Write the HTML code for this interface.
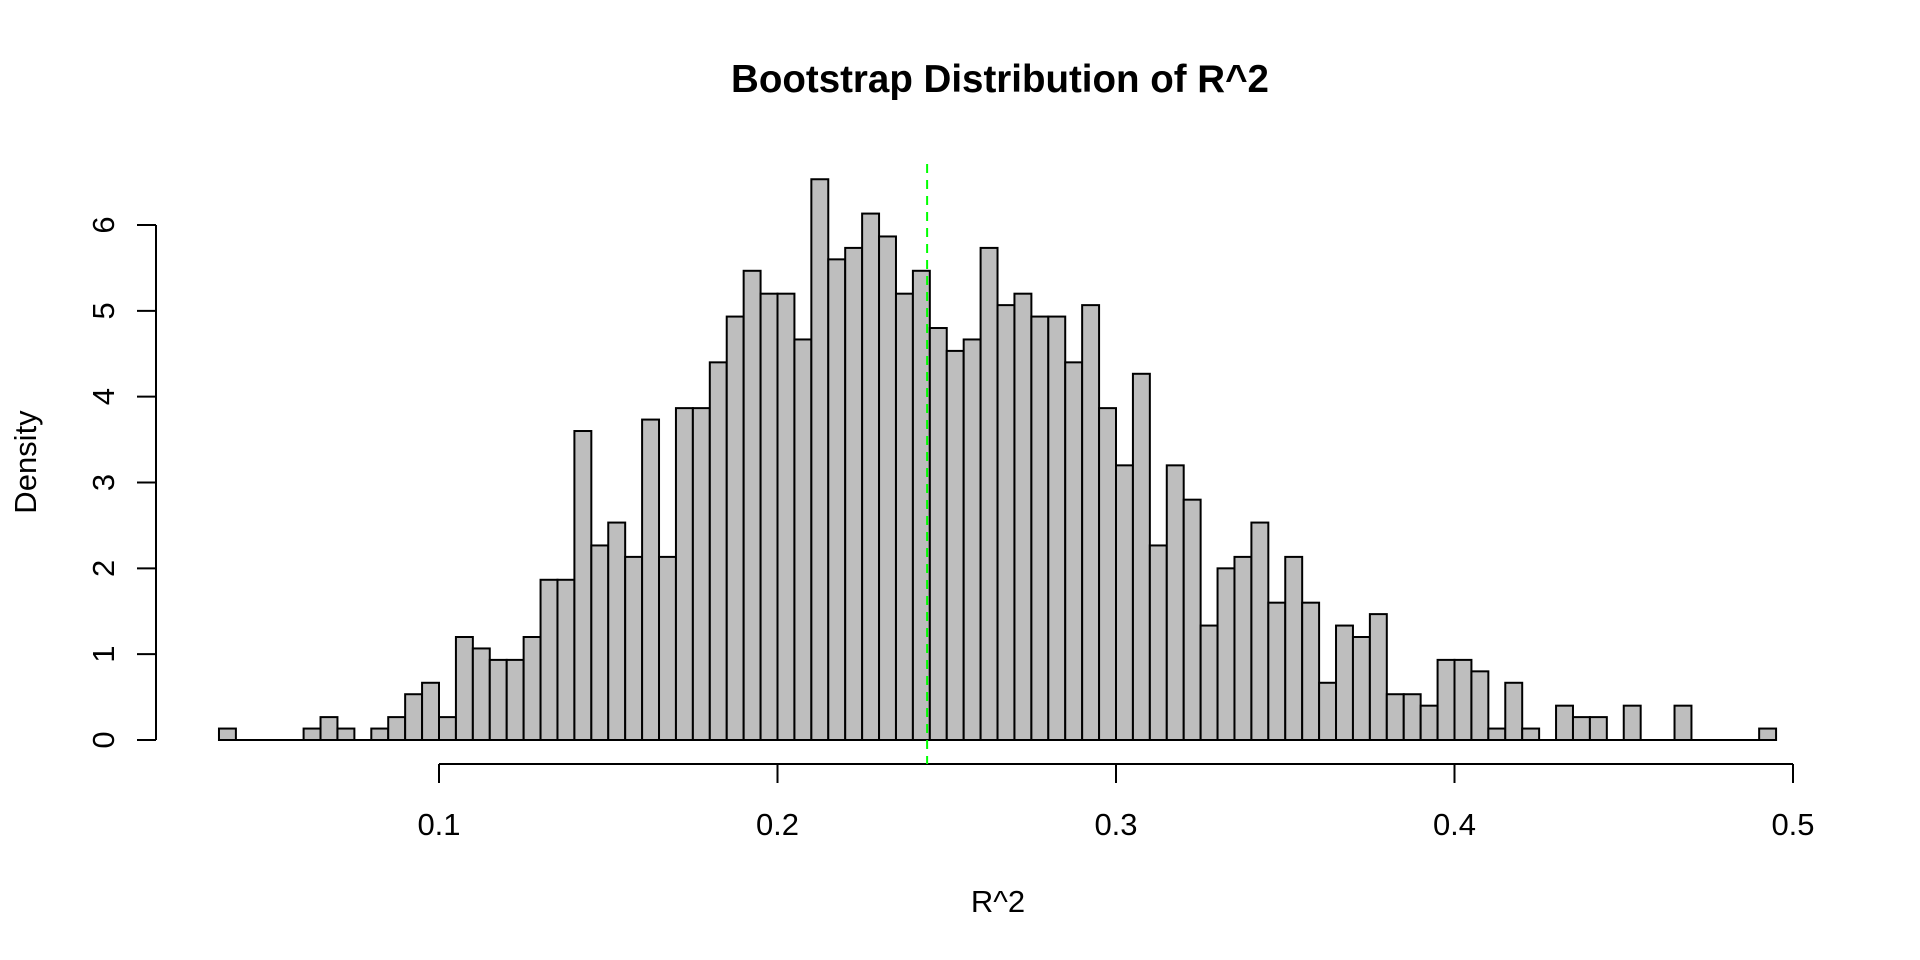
<!DOCTYPE html>
<html><head><meta charset="utf-8"><style>
html,body{margin:0;padding:0;background:#fff;}
svg{display:block;font-family:"Liberation Sans",Arial,sans-serif;}
</style></head><body>
<svg id="chart" width="1920" height="960" viewBox="0 0 1920 960" xmlns="http://www.w3.org/2000/svg">
<rect width="1920" height="960" fill="#fff"/>
<text x="1000" y="92" text-anchor="middle" font-size="38.5" font-weight="bold">Bootstrap Distribution of R^2</text>
<text x="998" y="912" text-anchor="middle" font-size="31">R^2</text>
<text transform="translate(36,462) rotate(-90)" text-anchor="middle" font-size="31">Density</text>
<g id="bars"></g>
<g id="axes"></g>
</svg>
<script>
const binStart = 0.035;
const binWidth = 0.005;
const sampleSize = 1500;
const binCounts = [1,0,0,0,0,1,2,1,0,1,2,4,5,2,9,8,7,7,9,14,14,27,17,19,16,28,16,29,29,33,37,41,39,39,35,49,42,43,46,44,39,41,36,34,35,43,38,39,37,37,33,38,29,24,32,17,24,21,10,15,16,19,12,16,12,5,10,9,11,4,4,3,7,7,6,1,5,1,0,3,2,2,0,3,0,0,3,0,0,0,0,1];
const xTicks = [0.1,0.2,0.3,0.4,0.5];
const xTickLabels = ["0.1","0.2","0.3","0.4","0.5"];
const yTicks = [0,1,2,3,4,5,6];
const yTickLabels = ["0","1","2","3","4","5","6"];
const observedR2 = 0.2442;

const NS = "http://www.w3.org/2000/svg";
function xs(v){ return 439 + (v - 0.1) * 3385; }
function ys(v){ return 740 - v * 85.83; }
function mk(tag, attrs, parent){ const e = document.createElementNS(NS, tag); for (const k in attrs) e.setAttribute(k, attrs[k]); parent.appendChild(e); return e; }

const bars = document.getElementById('bars');
binCounts.forEach((c, i) => {
  if (c === 0) return;
  const d = c / (sampleSize * binWidth);
  const x0 = xs(binStart + i * binWidth), x1 = xs(binStart + (i + 1) * binWidth);
  const r = mk('rect', {x: x0, y: ys(d), width: x1 - x0, height: ys(0) - ys(d), fill: '#bebebe', stroke: '#000', 'stroke-width': 2}, bars);
  
  
});
const bl = mk('line', {x1: xs(binStart), x2: xs(binStart + binCounts.length * binWidth), y1: ys(0), y2: ys(0), stroke: '#000', 'stroke-width': 2}, bars);



const axes = document.getElementById('axes');
const xa = mk('line', {x1: xs(xTicks[0]), x2: xs(xTicks[xTicks.length-1]), y1: 764, y2: 764, stroke: '#000', 'stroke-width': 2}, axes);


xTicks.forEach((t, i) => {
  const tk = mk('line', {x1: xs(t), x2: xs(t), y1: 764, y2: 783, stroke: '#000', 'stroke-width': 2}, axes);
  
  
  const tl = mk('text', {x: xs(t), y: 835, 'text-anchor': 'middle', 'font-size': 31}, axes);
  tl.textContent = xTickLabels[i];
  
  
});
const ya = mk('line', {x1: 156, x2: 156, y1: ys(yTicks[0]), y2: ys(yTicks[yTicks.length-1]), stroke: '#000', 'stroke-width': 2}, axes);


yTicks.forEach((t, i) => {
  const tk = mk('line', {x1: 137, x2: 156, y1: ys(t), y2: ys(t), stroke: '#000', 'stroke-width': 2}, axes);
  
  
  const tl = mk('text', {transform: 'translate(114,' + ys(t) + ') rotate(-90)', 'text-anchor': 'middle', 'font-size': 31}, axes);
  tl.textContent = yTickLabels[i];
  
  
});
const gl = mk('line', {x1: xs(observedR2), x2: xs(observedR2), y1: 164, y2: 764, stroke: '#00ff00', 'stroke-width': 2, 'stroke-dasharray': '9 7'}, axes);


</script>
</body></html>
